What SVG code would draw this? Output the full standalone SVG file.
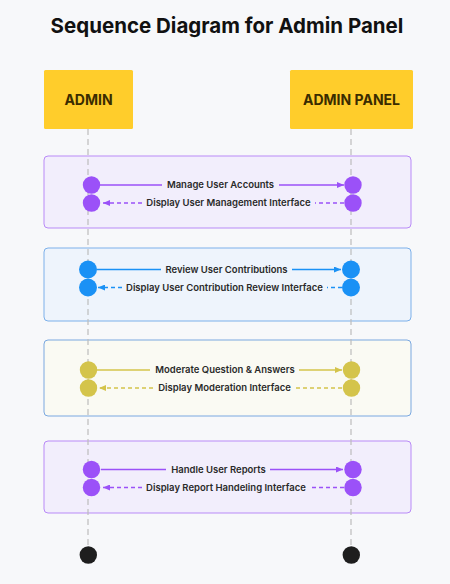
<svg xmlns="http://www.w3.org/2000/svg" width="450" height="584" viewBox="0 0 450 584">
<defs>
<marker id="ap" viewBox="0 0 7 6" refX="7" refY="3" markerWidth="7" markerHeight="6" markerUnits="userSpaceOnUse" orient="auto"><path d="M0,0 L7,3 L0,6 Z" fill="#9b51f8"/></marker>
<marker id="ab" viewBox="0 0 7 6" refX="7" refY="3" markerWidth="7" markerHeight="6" markerUnits="userSpaceOnUse" orient="auto"><path d="M0,0 L7,3 L0,6 Z" fill="#1a91f5"/></marker>
<marker id="ay" viewBox="0 0 7 6" refX="7" refY="3" markerWidth="7" markerHeight="6" markerUnits="userSpaceOnUse" orient="auto"><path d="M0,0 L7,3 L0,6 Z" fill="#d4c44b"/></marker>
</defs>
<style>
.title{font-family:Inter,"Liberation Sans",sans-serif;font-weight:700;font-size:20.5px;fill:#111;text-anchor:middle}
.actor{fill:#ffcd2b;}
.atext{font-family:Inter,"Liberation Sans",sans-serif;font-weight:700;font-size:14px;fill:#3a2c00;text-anchor:middle}
.life{stroke:#bdbdbd;stroke-width:1.2;stroke-dasharray:6 4;fill:none}
.msg{font-family:Inter,"Liberation Sans",sans-serif;font-weight:600;font-size:9.5px;fill:#2a2a2a;text-anchor:middle}
.gp{fill:#f2eefc;stroke:#b98af7;stroke-width:1}
.gb{fill:#eef4fc;stroke:#7cb0ea;stroke-width:1}
.gy{fill:#fafaf3;stroke:#7aa8e0;stroke-width:1}
.cp{fill:#9b51f8}.cb{fill:#1a91f5}.cy{fill:#d4c44b}
.lp{stroke:#9b51f8;stroke-width:1.4;fill:none}
.lb{stroke:#1a91f5;stroke-width:1.4;fill:none}
.ly{stroke:#d4c44b;stroke-width:1.4;fill:none}
.d{stroke-dasharray:4 3}
.end{fill:#1e1e1e}
</style>
<rect width="450" height="584" fill="#f7f8fa"/>
<text class="title" x="227" y="33">Sequence Diagram for Admin Panel</text>

<g id="frame-manage-accounts"><rect class="gp" x="44" y="156" width="367" height="72" rx="4"/></g>
<g id="frame-review-contributions"><rect class="gb" x="44" y="248" width="367" height="73" rx="4"/></g>
<g id="frame-moderate"><rect class="gy" x="44" y="340" width="367" height="76" rx="4"/></g>
<g id="frame-reports"><rect class="gp" x="44" y="441" width="367" height="72" rx="4"/></g>

<g id="lifelines">
<line class="life" x1="88" y1="129" x2="88" y2="547"/>
<line class="life" x1="351" y1="129" x2="351" y2="547"/>
</g>

<g id="admin"><rect class="actor" x="44" y="70" width="89" height="59" rx="1.5"/><text class="atext" x="88.5" y="105">ADMIN</text></g>
<g id="admin-panel"><rect class="actor" x="290" y="70" width="123" height="59" rx="1.5"/><text class="atext" x="351.5" y="105">ADMIN PANEL</text></g>

<g id="activations">
<circle class="cp" cx="91.5" cy="185" r="8.7"/><circle class="cp" cx="91.5" cy="203" r="8.7"/>
<circle class="cp" cx="353" cy="185" r="8.7"/><circle class="cp" cx="353" cy="203" r="8.7"/>
<circle class="cb" cx="88" cy="269.5" r="9"/><circle class="cb" cx="88" cy="287.5" r="9"/>
<circle class="cb" cx="351" cy="269.5" r="9"/><circle class="cb" cx="351" cy="287.5" r="9"/>
<circle class="cy" cx="88.5" cy="370" r="8.7"/><circle class="cy" cx="88.5" cy="388" r="8.7"/>
<circle class="cy" cx="351.5" cy="370" r="8.7"/><circle class="cy" cx="351.5" cy="388" r="8.7"/>
<circle class="cp" cx="91.5" cy="469.5" r="8.7"/><circle class="cp" cx="91.5" cy="487.5" r="8.7"/>
<circle class="cp" cx="353" cy="469.5" r="8.7"/><circle class="cp" cx="353" cy="487.5" r="8.7"/>
</g>

<g id="connectors">
<line class="lp" x1="100" y1="185" x2="162" y2="185"/><line class="lp" x1="279" y1="185" x2="344" y2="185" marker-end="url(#ap)"/>
<line class="lp d" x1="344" y1="203" x2="315" y2="203"/><line class="lp d" x1="142" y1="203" x2="103" y2="203" marker-end="url(#ap)"/>
<line class="lb" x1="97" y1="269.5" x2="161" y2="269.5"/><line class="lb" x1="292" y1="269.5" x2="341" y2="269.5" marker-end="url(#ab)"/>
<line class="lb d" x1="342" y1="287.5" x2="327" y2="287.5"/><line class="lb d" x1="122" y1="287.5" x2="98" y2="287.5" marker-end="url(#ab)"/>
<line class="ly" x1="97" y1="370" x2="150" y2="370"/><line class="ly" x1="299" y1="370" x2="342" y2="370" marker-end="url(#ay)"/>
<line class="ly d" x1="342" y1="388" x2="295" y2="388"/><line class="ly d" x1="153" y1="388" x2="99" y2="388" marker-end="url(#ay)"/>
<line class="lp" x1="101" y1="469.5" x2="166" y2="469.5"/><line class="lp" x1="270" y1="469.5" x2="343" y2="469.5" marker-end="url(#ap)"/>
<line class="lp d" x1="344" y1="487.5" x2="310" y2="487.5"/><line class="lp d" x1="142" y1="487.5" x2="103" y2="487.5" marker-end="url(#ap)"/>
</g>

<g id="labels">
<text class="msg" x="220.5" y="188.4">Manage User Accounts</text>
<text class="msg" x="228.5" y="206.4">Display User Management Interface</text>
<text class="msg" x="226.5" y="272.9">Review User Contributions</text>
<text class="msg" x="224.5" y="290.9">Display User Contribution Review Interface</text>
<text class="msg" x="225" y="373.4">Moderate Question &amp; Answers</text>
<text class="msg" x="224.5" y="391.4">Display Moderation Interface</text>
<text class="msg" x="218.5" y="472.9">Handle User Reports</text>
<text class="msg" x="226" y="490.9">Display Report Handeling Interface</text>
</g>

<g id="end-admin"><circle class="end" cx="88.3" cy="555" r="8.7"/></g>
<g id="end-admin-panel"><circle class="end" cx="351.3" cy="555" r="8.7"/></g>
</svg>
